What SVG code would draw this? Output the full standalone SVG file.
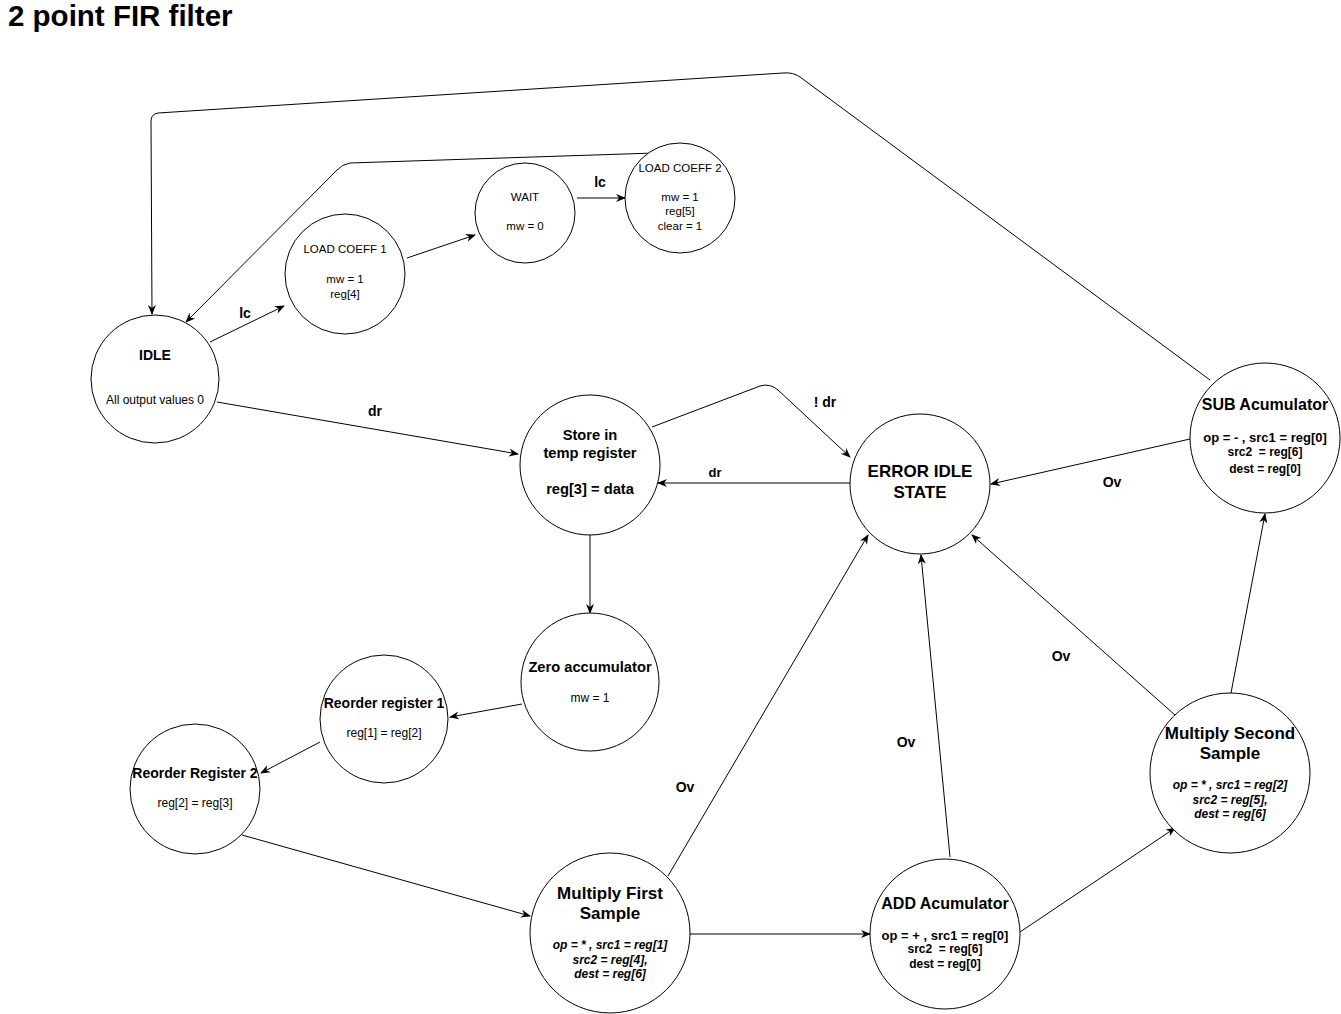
<svg xmlns="http://www.w3.org/2000/svg" width="1341" height="1014" viewBox="0 0 1341 1014">
  <style>
    text { font-family: "Liberation Sans", Arial, sans-serif; fill: #000; text-anchor: middle; dominant-baseline: central; white-space: pre; }
    .state { fill: #fff; stroke: #000; stroke-width: 1; }
    .edge { fill: none; stroke: #000; stroke-width: 1; marker-end: url(#arrow); }
    .b { font-weight: bold; }
    .bi { font-weight: bold; font-style: italic; font-size: 12px; }
    .ops { font-weight: bold; font-size: 13px; }
    .s { font-size: 12px; }
    .xs { font-size: 11.5px; }
    .lbl { font-weight: bold; font-size: 14px; }
  </style>
  <defs>
    <marker id="arrow" viewBox="0 0 10 10" refX="9" refY="5" markerWidth="10" markerHeight="10" markerUnits="userSpaceOnUse" orient="auto">
      <path d="M0,1 L10,5 L0,9 L3,5 z" fill="#000"/>
    </marker>
  </defs>
  <rect width="1341" height="1014" fill="#fff"/>
  <text x="8" y="15" style="text-anchor:start;font-size:29.5px;font-weight:bold">2 point FIR filter</text>

  <g id="connectors">
    <path class="edge" d="M210,342 L284,306"/>
    <path class="edge" d="M407,258 L475,235"/>
    <path class="edge" d="M577,198 L625,198"/>
    <path class="edge" d="M655,153 L350,163 Q342,164 336,171 L186,322"/>
    <path class="edge" d="M1210,380 L800,77 Q793,72 783,73 L158,113 Q151,114 151,121 L152,314"/>
    <path class="edge" d="M217,402 L518,454"/>
    <path class="edge" d="M652,427 L760,386 Q770,383 778,390 L850,457"/>
    <path class="edge" d="M850,483 L658,483"/>
    <path class="edge" d="M1190,439 L991,484"/>
    <path class="edge" d="M590,535 L590,613"/>
    <path class="edge" d="M522,704 L450,717"/>
    <path class="edge" d="M320,742 L261,773"/>
    <path class="edge" d="M242,835 L530,916"/>
    <path class="edge" d="M668,876 L868,535"/>
    <path class="edge" d="M690,934 L870,934"/>
    <path class="edge" d="M950,857 L921,555"/>
    <path class="edge" d="M1020,932 L1175,828"/>
    <path class="edge" d="M1175,715 L972,535"/>
    <path class="edge" d="M1231,693 L1265,514"/>
    <text class="lbl" x="245" y="313">lc</text>
    <text class="lbl" x="600" y="182">lc</text>
    <text class="lbl" x="375" y="411">dr</text>
    <text class="lbl" x="825" y="402">! dr</text>
    <text class="lbl" x="715" y="472" style="font-size:13px">dr</text>
    <text class="lbl" x="1112" y="482">Ov</text>
    <text class="lbl" x="685" y="787">Ov</text>
    <text class="lbl" x="906" y="742">Ov</text>
    <text class="lbl" x="1061" y="656">Ov</text>
  </g>

  <g id="idle">
    <circle class="state" cx="155" cy="379" r="64"/>
    <text class="b" x="155" y="355" style="font-size:14px">IDLE</text>
    <text class="s" x="155" y="400">All output values 0</text>
  </g>
  <g id="load-coeff-1">
    <circle class="state" cx="345" cy="274" r="60"/>
    <text class="xs" x="345" y="249">LOAD COEFF 1</text>
    <text class="xs" x="345" y="279">mw = 1</text>
    <text class="xs" x="345" y="294">reg[4]</text>
  </g>
  <g id="wait">
    <circle class="state" cx="525" cy="213" r="50"/>
    <text class="xs" x="525" y="197">WAIT</text>
    <text class="xs" x="525" y="226">mw = 0</text>
  </g>
  <g id="load-coeff-2">
    <circle class="state" cx="680" cy="198" r="55"/>
    <text class="xs" x="680" y="168">LOAD COEFF 2</text>
    <text class="xs" x="680" y="197">mw = 1</text>
    <text class="xs" x="680" y="211">reg[5]</text>
    <text class="xs" x="680" y="226">clear = 1</text>
  </g>
  <g id="store-temp">
    <circle class="state" cx="590" cy="465" r="70"/>
    <text class="b" x="590" y="435" style="font-size:14.7px">Store in</text>
    <text class="b" x="590" y="453" style="font-size:14.7px">temp register</text>
    <text class="b" x="590" y="489" style="font-size:14.7px">reg[3] = data</text>
  </g>
  <g id="error-idle">
    <circle class="state" cx="920" cy="484" r="70"/>
    <text class="b" x="920" y="471" style="font-size:17px">ERROR IDLE</text>
    <text class="b" x="920" y="492" style="font-size:17px">STATE</text>
  </g>
  <g id="sub-acc">
    <circle class="state" cx="1265" cy="438" r="75"/>
    <text class="b" x="1265" y="404" style="font-size:16px">SUB Acumulator</text>
    <text class="ops" x="1265" y="437">op = - , src1 = reg[0]</text>
    <text class="ops" x="1265" y="452" style="font-size:12px">src2  = reg[6]</text>
    <text class="ops" x="1265" y="469" style="font-size:12px">dest = reg[0]</text>
  </g>
  <g id="zero-acc">
    <circle class="state" cx="590" cy="682" r="69"/>
    <text class="b" x="590" y="667" style="font-size:14.7px">Zero accumulator</text>
    <text class="s" x="590" y="698">mw = 1</text>
  </g>
  <g id="reorder-1">
    <circle class="state" cx="384" cy="719" r="64"/>
    <text class="b" x="384" y="703" style="font-size:14px">Reorder register 1</text>
    <text class="s" x="384" y="733">reg[1] = reg[2]</text>
  </g>
  <g id="reorder-2">
    <circle class="state" cx="195" cy="789" r="65"/>
    <text class="b" x="195" y="773" style="font-size:14px">Reorder Register 2</text>
    <text class="s" x="195" y="803">reg[2] = reg[3]</text>
  </g>
  <g id="mult-first">
    <circle class="state" cx="610" cy="933" r="80"/>
    <text class="b" x="610" y="893" style="font-size:17px">Multiply First</text>
    <text class="b" x="610" y="913" style="font-size:17px">Sample</text>
    <text class="bi" x="610" y="945">op = * , src1 = reg[1]</text>
    <text class="bi" x="610" y="960">src2 = reg[4],</text>
    <text class="bi" x="610" y="974">dest = reg[6]</text>
  </g>
  <g id="add-acc">
    <circle class="state" cx="945" cy="934" r="75"/>
    <text class="b" x="945" y="903" style="font-size:16px">ADD Acumulator</text>
    <text class="ops" x="945" y="935">op = + , src1 = reg[0]</text>
    <text class="ops" x="945" y="949" style="font-size:12px">src2  = reg[6]</text>
    <text class="ops" x="945" y="964" style="font-size:12px">dest = reg[0]</text>
  </g>
  <g id="mult-second">
    <circle class="state" cx="1230" cy="773" r="80"/>
    <text class="b" x="1230" y="733" style="font-size:17px">Multiply Second</text>
    <text class="b" x="1230" y="753" style="font-size:17px">Sample</text>
    <text class="bi" x="1230" y="785">op = * , src1 = reg[2]</text>
    <text class="bi" x="1230" y="800">src2 = reg[5],</text>
    <text class="bi" x="1230" y="814">dest = reg[6]</text>
  </g>
</svg>
